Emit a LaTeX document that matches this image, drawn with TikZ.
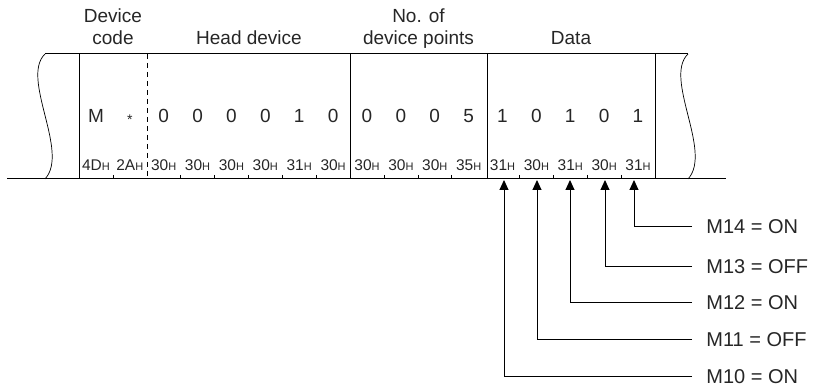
\documentclass[tikz,border=0pt]{standalone}
\usepackage{fontspec}
\setmainfont{Liberation Sans}
\usetikzlibrary{arrows.meta}
\begin{document}
\begin{tikzpicture}[x=1pt,y=-1pt,
  line width=0.8pt,
  hdr/.style={font=\fontsize{19}{19}\selectfont, text=black!85, inner sep=0, anchor=base},
  dig/.style={font=\fontsize{19}{19}\selectfont, text=black!85, inner sep=0, anchor=base},
  hex/.style={font=\fontsize{15.5}{15.5}\selectfont, text=black!85, inner sep=0, anchor=base},
  lbl/.style={font=\fontsize{20}{20}\selectfont, text=black!85, inner sep=0, anchor=base west},
  frame/.style={draw=black, line width=1pt},
  tick/.style={draw=black, line width=0.6pt},
  wave/.style={draw=black, line width=0.7pt},
  arr/.style={draw=black, line width=1pt, -{Triangle[width=9pt,length=10pt]}}
]
\useasboundingbox (0,0) rectangle (815,387);
\newcommand{\hx}[1]{#1{\fontsize{11}{11}\selectfont H}}

% headers
\node[hdr] (h1a) at (113,23) {Device};
\node[hdr] (h1b) at (113,45) {code};
\node[hdr] (h2) at (249,45) {Head device};
\node[hdr] (h3a) at (418.5,23) {No. of};
\node[hdr] (h3b) at (418.5,45) {device points};
\node[hdr] (h4) at (571,45) {Data};

% frame lines
\draw[frame] (45,54) -- (688,54);
\draw[frame] (7,179) -- (726,179);
\draw[frame] (79,54) -- (79,179);
\draw[frame, dash pattern=on 5pt off 4pt] (147,54) -- (147,179);
\draw[frame] (350,54) -- (350,179);
\draw[frame] (487,54) -- (487,179);
\draw[frame] (655,54) -- (655,179);

% wavy break lines
\draw[wave] (45,54) .. controls (20,78) and (70,152) .. (45,179);
\draw[wave] (688,54) .. controls (663,78) and (713,152) .. (688,179);

% ticks
\foreach \i in {1,3,4,5,6,7,9,10,11,13,14,15,16}
  \draw[tick] ({79+\i*33.88},175) -- ({79+\i*33.88},179);

% digits
\foreach [count=\i from 0] \d in {M,,0,0,0,0,1,0,0,0,0,5,1,0,1,0,1}
  \node[dig] (d\i) at ({79+(\i+0.5)*33.88},123) {\d};
\node[dig] (ast) at ({79+1.5*33.88},123) {\raisebox{-1.5pt}{\fontsize{14}{14}\selectfont *}};

% hex codes
\foreach [count=\i from 0] \h in {4D,2A,30,30,30,30,31,30,30,30,30,35,31,30,31,30,31}
  \node[hex] (x\i) at ({79+(\i+0.5)*33.88},171) {\hx{\h}};

% arrows and labels
\coordinate (t0) at (504,180);
\coordinate (t1) at (537,180);
\coordinate (t2) at (570,180);
\coordinate (t3) at (605,180);
\coordinate (t4) at (634,180);
\coordinate (e0) at (692,377);
\coordinate (e1) at (692,340);
\coordinate (e2) at (692,303);
\coordinate (e3) at (692,267);
\coordinate (e4) at (692,227);
\node[lbl] (m0) at (706,384) {M10 = ON};
\node[lbl] (m1) at (706,347) {M11 = OFF};
\node[lbl] (m2) at (706,310) {M12 = ON};
\node[lbl] (m3) at (706,274) {M13 = OFF};
\node[lbl] (m4) at (706,234) {M14 = ON};
\foreach \k in {0,...,4}
  \draw[arr] (e\k) -| (t\k);
\end{tikzpicture}
\end{document}
